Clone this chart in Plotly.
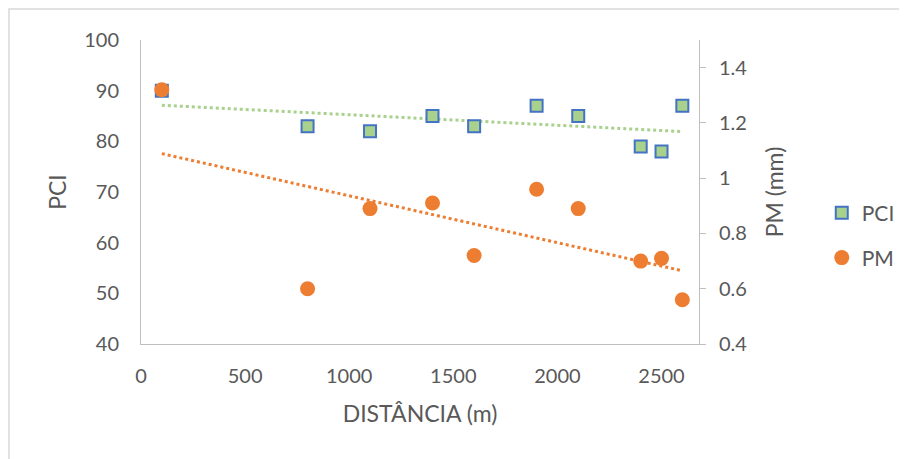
import numpy as np
import plotly.graph_objects as go

distancia = [100, 800, 1100, 1400, 1600, 1900, 2100, 2400, 2500, 2600]
pci = [90, 83, 82, 85, 83, 87, 85, 79, 78, 87]
pm = [1.32, 0.60, 0.89, 0.91, 0.72, 0.96, 0.89, 0.70, 0.71, 0.56]

x_arr = np.array(distancia, dtype=float)
xs = np.array([x_arr.min(), x_arr.max()])
p_pci = np.polyfit(x_arr, np.array(pci, dtype=float), 1)
p_pm = np.polyfit(x_arr, np.array(pm, dtype=float), 1)

GREEN = "#A9D18E"
ORANGE = "#ED7D31"
BLUE = "#4472C4"
TXT = "#595959"
AX = "#BFBFBF"
FONT = "Lato"

fig = go.Figure()
fig.add_trace(go.Scatter(x=xs, y=np.polyval(p_pci, xs), mode="lines",
                         line=dict(color=GREEN, width=3, dash="dot"),
                         showlegend=False, hoverinfo="skip"))
fig.add_trace(go.Scatter(x=xs, y=np.polyval(p_pm, xs), mode="lines", yaxis="y2",
                         line=dict(color=ORANGE, width=3, dash="dot"),
                         showlegend=False, hoverinfo="skip"))
fig.add_trace(go.Scatter(x=distancia, y=pci, mode="markers", name="PCI",
                         marker=dict(symbol="square", size=12, color=GREEN,
                                     line=dict(color=BLUE, width=2)),
                         legend="legend"))
fig.add_trace(go.Scatter(x=distancia, y=pm, mode="markers", name="PM", yaxis="y2",
                         marker=dict(symbol="circle", size=15, color=ORANGE,
                                     line=dict(width=0)),
                         legend="legend2"))

fig.update_layout(
    width=907, height=459,
    margin=dict(l=133, r=216, t=32, b=123),
    paper_bgcolor="white", plot_bgcolor="white",
    font=dict(family=FONT, size=20, color=TXT),
    xaxis=dict(range=[0, 2680], tickvals=[0, 500, 1000, 1500, 2000, 2500],
               showgrid=False, zeroline=False, showline=True, linecolor=AX, linewidth=1,
               ticks="", ticklabelstandoff=14, tickfont=dict(size=20),
               title=dict(text="DISTÂNCIA (m)", standoff=19, font=dict(size=23))),
    yaxis=dict(range=[40, 100], tickvals=[40, 50, 60, 70, 80, 90, 100],
               showgrid=False, zeroline=False, showline=True, linecolor=AX, linewidth=1,
               ticks="", ticklabelstandoff=17, tickfont=dict(size=20),
               title=dict(text="PCI", standoff=11, font=dict(size=23))),
    yaxis2=dict(range=[0.4, 1.5], tickvals=[0.4, 0.6, 0.8, 1.0, 1.2, 1.4],
                overlaying="y", side="right", anchor="x",
                showgrid=False, zeroline=False, showline=True, linecolor=AX, linewidth=1,
                ticks="outside", ticklen=6, tickcolor=AX, ticklabelstandoff=9,
                tickfont=dict(size=20),
                title=dict(text="PM (mm)", standoff=20, font=dict(size=23))),
    legend=dict(x=1.220, y=0.431, xanchor="left", yanchor="middle",
                font=dict(size=21, color=TXT), bgcolor="rgba(0,0,0,0)"),
    legend2=dict(x=1.220, y=0.283, xanchor="left", yanchor="middle",
                 font=dict(size=21, color=TXT), bgcolor="rgba(0,0,0,0)"),
    shapes=[dict(type="rect", xref="paper", yref="paper",
                 x0=-0.2366, x1=1.5, y0=-0.6, y1=1.102,
                 line=dict(color="#D9D9D9", width=1.5), fillcolor="rgba(0,0,0,0)",
                 layer="below")],
    showlegend=True,
)

fig.write_html("out.html")
